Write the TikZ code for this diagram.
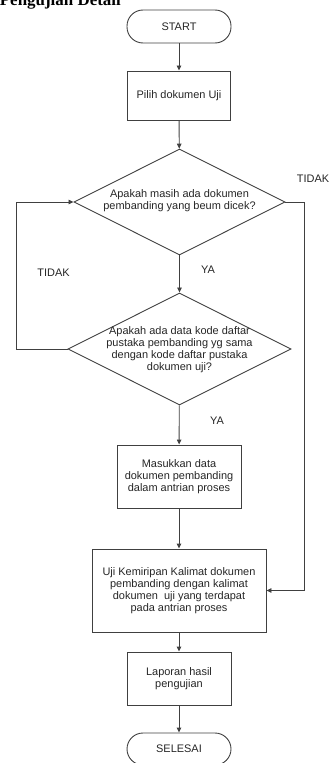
\documentclass[tikz,border=0pt]{standalone}
\usepackage{fontspec}
\setmainfont{Liberation Sans}
\newfontfamily\headfont{Liberation Serif}
\usetikzlibrary{shapes.geometric,arrows.meta}
\begin{document}
\begin{tikzpicture}[x=1bp,y=-1bp,
  every node/.style={font=\fontsize{11}{12}\selectfont, text=black!85},
  line/.style={draw=black!75, line width=0.9bp},
  arr/.style={line, -{Triangle[length=5bp,width=4.5bp]}},
  term/.style={line, rectangle, rounded corners=16bp, minimum width=104bp, minimum height=33bp, inner sep=0pt},
  proc/.style={line, rectangle, align=center, inner sep=0pt},
  dec/.style={line, diamond, inner sep=0pt},
  lbl/.style={inner sep=0pt}
]
\useasboundingbox (0,0) rectangle (330,763);
\begin{scope}
\clip (0,0) rectangle (330,763);
\node[anchor=base east, inner sep=0pt, font=\headfont\bfseries\fontsize{17}{17}\selectfont, text=black] (head) at (121,6) {Pengujian Detail};

\node[term] (start) at (179,26.5) {START};
\node[proc, minimum width=103bp, minimum height=49bp] (pilih) at (179,95.5) {Pilih dokumen Uji};
\node[dec, minimum width=211bp, minimum height=106bp] (d1) at (179.5,202) {};
\node[lbl, align=center] (d1t) at (179.5,201) {Apakah masih ada dokumen\\pembanding yang beum dicek?};
\node[dec, minimum width=223bp, minimum height=112bp] (d2) at (179.5,349) {};
\node[lbl, align=center] (d2t) at (179.5,350) {Apakah ada data kode daftar\\pustaka pembanding yg sama\\dengan kode daftar pustaka\\dokumen uji?};
\node[proc, minimum width=124bp, minimum height=63bp] (masuk) at (179,476.5) {Masukkan data\\dokumen pembanding\\dalam antrian proses};
\node[proc, minimum width=174bp, minimum height=83bp] (uji) at (179,590.5) {Uji Kemiripan Kalimat dokumen\\pembanding dengan kalimat\\dokumen\ \ uji yang terdapat\\pada antrian proses};
\node[proc, minimum width=104bp, minimum height=53bp] (lap) at (179,678.5) {Laporan hasil\\pengujian};
\node[term, minimum height=32bp] (selesai) at (179,749) {SELESAI};

\node[lbl] (tidak1) at (313,179) {TIDAK};
\node[lbl] (tidak2) at (53.5,273) {TIDAK};
\node[lbl] (ya1) at (208,270) {YA};
\node[lbl] (ya2) at (217,421) {YA};

\draw[arr] (start) -- (pilih);
\draw[arr] (pilih) -- (d1);
\draw[arr] (d1) -- (d2);
\draw[arr] (d2) -- (masuk);
\draw[arr] (masuk) -- (uji);
\draw[arr] (uji) -- (lap);
\draw[arr] (lap) -- (selesai);
\draw[arr] (d1.east) -- ++(19,0) |- (uji.east);
\draw[arr] (d2.west) -- ++(-51,0) |- (d1.west);
\end{scope}
\end{tikzpicture}
\end{document}
